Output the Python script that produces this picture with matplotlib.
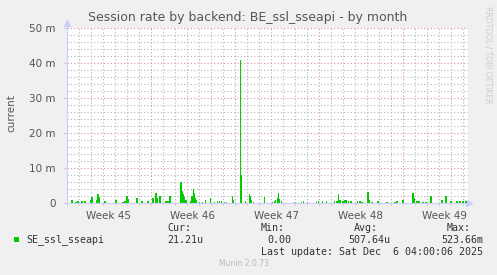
import numpy as np
import matplotlib
matplotlib.use('Agg')
import matplotlib.pyplot as plt
from matplotlib.ticker import MultipleLocator, FixedLocator

# Session rate: day offset from Mon Nov 3 00:00, value in m
days = [0.42, 0.75, 0.92, 1.25, 1.51, 2.01, 2.09, 2.51, 2.59, 2.68, 3.18, 4.10,
        4.68, 4.85, 5.02, 5.10, 5.85, 6.27, 6.77, 7.19, 7.44, 7.53, 7.78, 8.20,
        8.36, 8.53, 8.61, 9.45, 9.53, 9.62, 9.70, 9.78, 9.87, 9.95, 10.29, 10.45,
        10.54, 10.62, 10.70, 10.79, 11.04, 11.29, 11.54, 11.96, 12.29, 12.54, 12.71,
        12.88, 13.13, 13.30, 13.80, 13.88, 14.47, 14.55, 14.89, 15.22, 15.30, 15.39,
        15.56, 16.47, 17.14, 17.31, 17.40, 17.56, 17.65, 17.73, 17.90, 18.98, 19.57,
        19.74, 20.07, 20.82, 20.99, 21.33, 21.66, 22.33, 22.50, 22.66, 22.75, 23.00,
        23.17, 23.25, 23.50, 23.67, 24.25, 24.42, 24.59, 25.09, 25.17, 25.42, 25.93,
        26.68, 27.35, 27.51, 28.02, 28.85, 28.94, 29.19, 29.35, 29.69, 29.94, 30.36,
        31.28, 31.61, 32.03, 32.53, 32.78, 33.03, 33.28]
rate_m = [1.0, 0.4, 0.6, 0.5, 0.7, 0.9, 1.6, 1.0, 2.6, 1.8, 0.5, 1.0,
          0.4, 0.5, 2.0, 1.2, 1.5, 0.6, 0.6, 1.5, 3.0, 1.5, 2.0, 0.5,
          0.5, 0.5, 1.9, 1.5, 6.0, 3.5, 2.5, 1.8, 1.0, 0.8, 0.6, 2.0,
          4.0, 2.8, 1.5, 1.0, 0.3, 0.4, 1.0, 1.4, 0.4, 0.5, 0.6,
          0.5, 0.4, 0.3, 2.0, 1.0, 41.0, 8.0, 0.5, 2.6, 2.0, 1.0,
          0.3, 1.7, 0.4, 0.5, 0.8, 1.5, 2.9, 1.2, 0.6, 0.3, 0.4,
          0.5, 0.4, 0.4, 0.6, 0.7, 0.5, 0.5, 0.7, 2.7, 1.0, 0.6,
          0.8, 0.9, 0.6, 0.5, 0.6, 0.6, 0.4, 3.2, 1.0, 0.4, 0.6,
          0.4, 0.4, 0.5, 0.8, 3.0, 1.5, 0.5, 0.5, 0.3, 0.4, 2.0,
          0.9, 2.0, 0.5, 0.5, 0.6, 0.5, 0.7]

week_labels = ['Week 45', 'Week 46', 'Week 47', 'Week 48', 'Week 49']
y_ticks = [0, 10, 20, 30, 40, 50]
y_tick_labels = ['0', '10 m', '20 m', '30 m', '40 m', '50 m']

series_name = 'SE_ssl_sseapi'
cur, vmin, avg, vmax = '21.21u', '0.00', '507.64u', '523.66m'
last_update = 'Last update: Sat Dec  6 04:00:06 2025'

W, H = 497, 275
fig = plt.figure(figsize=(W / 100, H / 100), dpi=100, facecolor='#f0f0f0')

def px(x, y):
    return x / W, 1 - y / H

# plot area in pixels: x 67..468, y 28..203
ax = fig.add_axes([67 / W, 1 - 203 / H, 401 / W, 175 / H])
ax.set_facecolor('white')
x_end = 33.45
ax.set_xlim(0, x_end)
ax.set_ylim(0, 50)

green = '#00cc00'
ax.bar(days, rate_m, width=0.13, color=green, linewidth=0, align='center', zorder=3)

# grid
ax.yaxis.set_major_locator(FixedLocator(y_ticks))
ax.yaxis.set_minor_locator(MultipleLocator(2))
ax.xaxis.set_major_locator(FixedLocator([7, 14, 21, 28]))
ax.xaxis.set_minor_locator(MultipleLocator(1))
ax.grid(which='minor', color='#b4b4b4', linestyle=(0, (1, 2)), linewidth=0.8, zorder=1)
ax.grid(which='major', color='#dc9090', linestyle=(0, (1, 2)), linewidth=0.8, zorder=2)
ax.tick_params(which='both', length=0, labelbottom=False)
ax.set_yticklabels(y_tick_labels, fontsize=7.5, color='#555555')
ax.tick_params(axis='y', pad=8)

for s in ['top', 'right']:
    ax.spines[s].set_visible(False)
for s in ['left', 'bottom']:
    ax.spines[s].set_color('#ccccff')
    ax.spines[s].set_linewidth(0.8)
    ax.spines[s].set_zorder(4)

# little ticks on the axes
for d in range(0, 34):
    ax.plot([d, d], [0, -0.6], color='#c8c8c8', lw=0.6, clip_on=False)
for v in y_ticks:
    ax.plot([-0.25, 0], [v, v], color='#c8c8c8', lw=0.6, clip_on=False)

# arrows
ax.plot([0], [51.5], marker='^', color='#ccccff', markersize=4, clip_on=False)
ax.plot([x_end + 0.1], [0], marker='>', color='#ccccff', markersize=4, clip_on=False)
ax.plot([0, 0], [50, 51.5], color='#ccccff', lw=0.8, clip_on=False)

for i, lab in enumerate(week_labels):
    ax.text(3.5 + 7 * i, -2.4, lab, ha='center', va='top', fontsize=7.5, color='#555555')

fig.text(*px(248, 17), 'Session rate by backend: BE_ssl_sseapi - by month',
         ha='center', va='center', fontsize=9, color='#555555')
fig.text(*px(11, 113), 'current', rotation=90, ha='center', va='center',
         fontsize=7.5, color='#555555')
fig.text(*px(488, 55), 'RRDTOOL / TOBI OETIKER', rotation=270, ha='center', va='center',
         fontsize=5.5, color='#cccccc')

# legend
mono = dict(family='DejaVu Sans Mono', fontsize=7.2, color='#333333', va='center')
fig.patches.append(plt.Rectangle(px(14, 242), 5 / W, 5 / H, transform=fig.transFigure,
                                 facecolor=green, edgecolor='none'))
fig.text(*px(26, 240), series_name, **mono)
fig.text(*px(167, 228), 'Cur:', **mono)
fig.text(*px(167, 240), cur, **mono)
fig.text(*px(261, 228), 'Min:', **mono)
fig.text(*px(267, 240), vmin, **mono)
fig.text(*px(354, 228), 'Avg:', **mono)
fig.text(*px(348, 240), avg, **mono)
fig.text(*px(447, 228), 'Max:', **mono)
fig.text(*px(441, 240), vmax, **mono)
fig.text(*px(261, 252), last_update, **mono)
fig.text(*px(244, 264), 'Munin 2.0.73', ha='center', va='center', fontsize=5.5, color='#bbbbbb')

fig.savefig('out.png', dpi=100, facecolor=fig.get_facecolor())
